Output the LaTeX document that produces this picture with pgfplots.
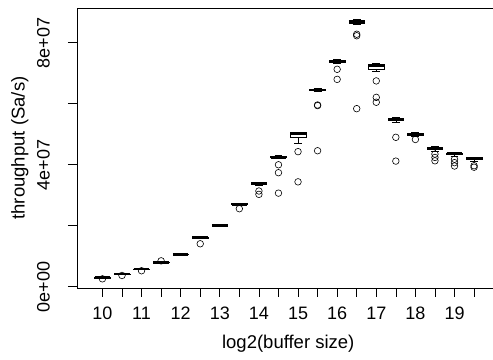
\documentclass[border=0pt]{standalone}
\usepackage{pgfplots}
\pgfplotsset{compat=1.18}
\usepgfplotslibrary{statistics}
\usepackage{fontspec}
\setmainfont{Liberation Sans}
\begin{document}
\begin{tikzpicture}
\begin{axis}[
  name=ax,
  width=422.5pt, height=280pt, scale only axis,
  xmin=-0.3, xmax=21.3, ymin=-0.4, ymax=91.4,
  axis line style={line width=0.8pt},
  xtick={1,...,20},
  xticklabels={10,,11,,12,,13,,14,,15,,16,,17,,18,,19,},
  ytick={0,20,40,60,80},
  yticklabels={0e+00,,4e+07,,8e+07},
  tick align=outside, major tick length=9pt,
  xtick pos=left, ytick pos=left,
  tick style={black, line width=0.6pt},
  tick label style={font=\fontsize{18}{18}\selectfont, inner sep=0pt},
  /pgf/number format/assume math mode=true,
  xticklabel style={anchor=north},
  xticklabel shift=10pt,
  yticklabel style={rotate=90, anchor=south},
  yticklabel shift=18pt,
  xlabel={log2(buffer size)},
  ylabel={throughput (Sa/s)},
  label style={font=\fontsize{18.5}{18.5}\selectfont},
  xlabel style={at={(rel axis cs:0.5,-0.2)}, anchor=center},
  ylabel style={at={(rel axis cs:-0.135,0.5)}, anchor=center},
  boxplot/draw direction=y,
  boxplot/box extend=0.8,
  boxplot/whisker extend=0.4,
  boxplot/every box/.style={draw=black, fill=white, line width=0.6pt},
  boxplot/every median/.style={line width=2.8pt},
  boxplot/every whisker/.style={line width=0.6pt},
]
\addplot[black, boxplot prepared={draw position=1, lower whisker=2.8, lower quartile=2.88, median=2.95, upper quartile=3.02, upper whisker=3.1}] coordinates {};
\addplot[black, boxplot prepared={draw position=2, lower whisker=4.0, lower quartile=4.08, median=4.16, upper quartile=4.24, upper whisker=4.3}] coordinates {};
\addplot[black, boxplot prepared={draw position=3, lower whisker=5.65, lower quartile=5.72, median=5.8, upper quartile=5.88, upper whisker=5.95}] coordinates {};
\addplot[black, boxplot prepared={draw position=4, lower whisker=7.85, lower quartile=7.92, median=8.0, upper quartile=8.08, upper whisker=8.15}] coordinates {};
\addplot[black, boxplot prepared={draw position=5, lower whisker=10.45, lower quartile=10.52, median=10.6, upper quartile=10.68, upper whisker=10.75}] coordinates {};
\addplot[black, boxplot prepared={draw position=6, lower whisker=15.9, lower quartile=16.0, median=16.1, upper quartile=16.2, upper whisker=16.3}] coordinates {};
\addplot[black, boxplot prepared={draw position=7, lower whisker=19.85, lower quartile=19.92, median=20.0, upper quartile=20.08, upper whisker=20.15}] coordinates {};
\addplot[black, boxplot prepared={draw position=8, lower whisker=26.8, lower quartile=26.95, median=27.1, upper quartile=27.25, upper whisker=27.4}] coordinates {};
\addplot[black, boxplot prepared={draw position=9, lower whisker=33.4, lower quartile=33.6, median=33.8, upper quartile=34.0, upper whisker=34.2}] coordinates {};
\addplot[black, boxplot prepared={draw position=10, lower whisker=42.0, lower quartile=42.3, median=42.5, upper quartile=42.7, upper whisker=43.0}] coordinates {};
\addplot[black, boxplot prepared={draw position=11, lower whisker=47.0, lower quartile=48.9, median=50.2, upper quartile=50.5, upper whisker=50.7}] coordinates {};
\addplot[black, boxplot prepared={draw position=12, lower whisker=64.0, lower quartile=64.3, median=64.5, upper quartile=64.7, upper whisker=65.0}] coordinates {};
\addplot[black, boxplot prepared={draw position=13, lower whisker=73.2, lower quartile=73.5, median=73.8, upper quartile=74.1, upper whisker=74.5}] coordinates {};
\addplot[black, boxplot prepared={draw position=14, lower whisker=85.9, lower quartile=86.4, median=86.9, upper quartile=87.4, upper whisker=87.8}] coordinates {};
\addplot[black, boxplot prepared={draw position=15, lower whisker=70.5, lower quartile=71.3, median=72.6, upper quartile=72.9, upper whisker=73.3}] coordinates {};
\addplot[black, boxplot prepared={draw position=16, lower whisker=53.8, lower quartile=54.6, median=54.9, upper quartile=55.2, upper whisker=55.4}] coordinates {};
\addplot[black, boxplot prepared={draw position=17, lower whisker=49.4, lower quartile=49.7, median=50.0, upper quartile=50.3, upper whisker=50.5}] coordinates {};
\addplot[black, boxplot prepared={draw position=18, lower whisker=44.5, lower quartile=45.1, median=45.4, upper quartile=45.7, upper whisker=45.9}] coordinates {};
\addplot[black, boxplot prepared={draw position=19, lower whisker=42.7, lower quartile=43.3, median=43.6, upper quartile=43.9, upper whisker=44.1}] coordinates {};
\addplot[black, boxplot prepared={draw position=20, lower whisker=41.3, lower quartile=41.9, median=42.2, upper quartile=42.4, upper whisker=42.6}] coordinates {};
% outliers
\addplot[only marks, mark=o, mark size=3.3pt, black, mark options={line width=0.6pt}] coordinates {
 (1,2.6) (2,3.7) (3,5.25) (4,8.5) (6,14.1) (8,25.6)
 (9,31.4) (9,30.3)
 (10,40.0) (10,37.4) (10,30.7)
 (11,44.3) (11,34.4)
 (12,59.6) (12,59.4) (12,44.6)
 (13,71.3) (13,68.0)
 (14,82.8) (14,82.3) (14,58.4)
 (15,67.5) (15,62.1) (15,60.5)
 (16,49.0) (16,41.2)
 (17,48.3)
 (18,43.5) (18,42.4) (18,41.3)
 (19,41.8) (19,40.7) (19,39.6)
 (20,39.7) (20,39.2)
};
\end{axis}
\pgfresetboundingbox
\path ([xshift=-77pt,yshift=-72pt]ax.south west) rectangle ([xshift=-6.5pt,yshift=8pt]ax.north east);
\end{tikzpicture}
\end{document}
